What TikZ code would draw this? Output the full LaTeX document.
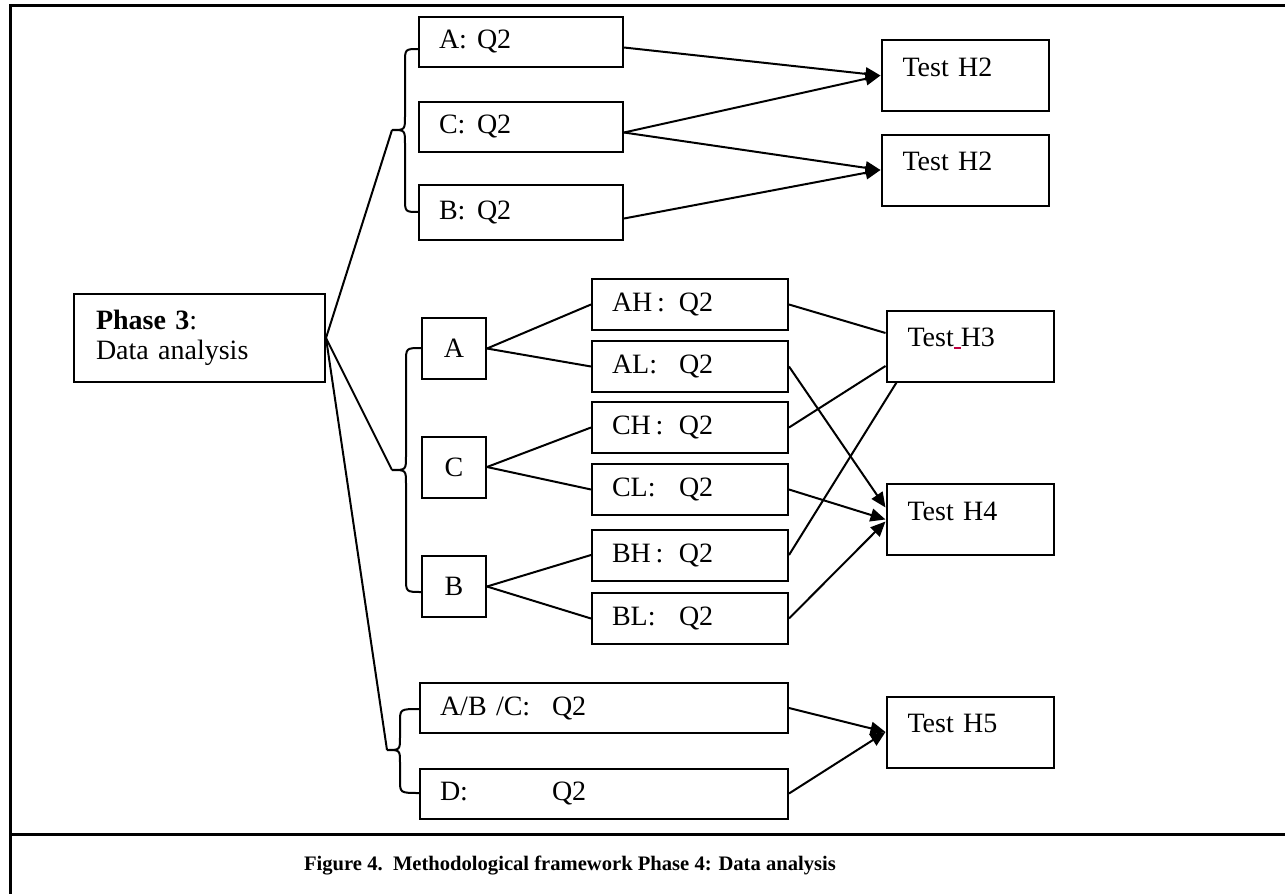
\documentclass[tikz,border=0pt]{standalone}
\usepackage{fontspec}
\setmainfont{Liberation Serif}
\usetikzlibrary{arrows.meta}

\begin{document}
\begin{tikzpicture}[x=0.5pt,y=-0.5pt,
	box/.style={draw,line width=1pt,inner xsep=10pt,inner ysep=0pt,align=left,font=\fontsize{14}{15}\selectfont},
	qbox/.style={box,text width=82pt,minimum height=25pt},
	subbox/.style={box,text width=78pt,minimum height=25.5pt},
	widebox/.style={box,text width=164pt,minimum height=25pt},
	letterbox/.style={box,inner sep=0pt,align=center,minimum width=32pt,minimum height=30.5pt},
	testbox/.style={box,inner xsep=10.5pt,inner ysep=8pt,text width=62.5pt,text height=10pt,text depth=9.5pt},
	phasebox/.style={box,inner xsep=11pt,text width=103.5pt,minimum height=44pt},
	link/.style={line width=1pt},
	arrow/.style={link,-{Triangle[length=7.5pt,width=6.5pt]}},
	frame/.style={line width=1.5pt}]
			\useasboundingbox (0,0) rectangle (1285,894);
			% table frame and caption rule
			\draw[frame] (10,900) -- (10,5) -- (1290,5);
			\draw[frame] (10,834) -- (1290,834);
			% phase box
			\node[phasebox] (phase) at (199.5,338) {\textbf{Phase 3}:\\Data analysis};
			% first group: Q2 by A, C, B
			\node[qbox] (qA) at (521,41.5) {\makebox[19pt][l]{A:}Q2};
			\node[qbox] (qC) at (521,126.5) {\makebox[19pt][l]{C:}Q2};
			\node[qbox,minimum height=27.5pt] (qB) at (521,212.5) {\makebox[19pt][l]{B:}Q2};
			\node[testbox] (h2a) at (965,75.5) {Test H2};
			\node[testbox] (h2b) at (965,170) {Test H2};
			% second group: A, C, B split into H and L
			\node[letterbox] (mA) at (454,348.5) {A};
			\node[letterbox] (mC) at (454,467) {C};
			\node[letterbox] (mB) at (454,586.5) {B};
			\node[subbox] (ah) at (690,304.5) {\makebox[33.5pt][l]{AH\,:}Q2};
			\node[subbox] (al) at (690,366.5) {\makebox[33.5pt][l]{AL:}Q2};
			\node[subbox] (ch) at (690,427.5) {\makebox[33.5pt][l]{CH\,:}Q2};
			\node[subbox] (cl) at (690,489.5) {\makebox[33.5pt][l]{CL:}Q2};
			\node[subbox] (bh) at (690,555) {\makebox[33.5pt][l]{BH\,:}Q2};
			\node[subbox] (bl) at (690,618.5) {\makebox[33.5pt][l]{BL:}Q2};
			\node[testbox] (h3) at (970,346) {Test\textcolor{purple}{\rule[-1pt]{3.5pt}{0.7pt}}H3};
			\node[testbox] (h4) at (970,519.5) {Test H4};
			% third group: A/B/C against D
			\node[widebox] (abc) at (604,708) {\makebox[56pt][l]{A/B /C:}Q2};
			\node[widebox] (dq) at (604,793.5) {\makebox[56pt][l]{D:}Q2};
			\node[testbox] (h5) at (970,732) {Test H5};
			% braces
			\coordinate (tipTop) at (392,130);
			\coordinate (tipMid) at (392,470);
			\coordinate (tipBot) at (387,750);
			\draw[link] (419,49) .. controls (405,49) .. (405,63) -- (405,116) .. controls (405,130) .. (tipTop)
				.. controls (405,130) .. (405,144) -- (405,198) .. controls (405,212) .. (419,212);
			\draw[link] (422,348) .. controls (406,348) .. (406,362) -- (406,456) .. controls (406,470) .. (tipMid)
				.. controls (406,470) .. (406,484) -- (406,578) .. controls (406,592) .. (422,592);
			\draw[link] (420,709) .. controls (400,709) .. (400,722) -- (400,737) .. controls (400,750) .. (tipBot)
				.. controls (400,750) .. (400,763) -- (400,780) .. controls (400,793) .. (420,793);
			% phase to the braces
			\draw[link] (phase.east) -- (tipTop);
			\draw[link] (phase.east) -- (tipMid);
			\draw[link] (phase.east) -- (tipBot);
			% first group connectors
			\draw[arrow] ([yshift=-3pt]qA.east) -- (h2a.west);
			\draw[arrow] ([yshift=-3pt]qC.east) -- (h2a.west);
			\draw[arrow] ([yshift=-3pt]qC.east) -- (h2b.west);
			\draw[arrow] ([yshift=-3pt]qB.east) -- (h2b.west);
			% second group connectors
			\draw[link] (mA.east) -- (ah.west);
			\draw[link] (mA.east) -- (al.west);
			\draw[link] (mC.east) -- (ch.west);
			\draw[link] (mC.east) -- (cl.west);
			\draw[link] (mB.east) -- (bh.west);
			\draw[link] (mB.east) -- (bl.west);
			\draw[link] (ah.east) -- ([yshift=6.5pt]h3.west);
			\draw[link] (ch.east) -- ([yshift=-10pt]h3.west);
			\draw[link] (bh.east) -- ([xshift=5.5pt]h3.south west);
			\draw[arrow] (al.east) -- ([yshift=6pt]h4.west);
			\draw[arrow] (cl.east) -- (h4.west);
			\draw[arrow] (bl.east) -- ([yshift=-1pt]h4.west);
			% third group connectors
			\draw[arrow] (abc.east) -- (h5.west);
			\draw[arrow] (dq.east) -- (h5.west);
			% caption
			\node[font=\bfseries\fontsize{10.3}{12}\selectfont] (caption) at (570,866) {Figure 4.\ \ Methodological framework Phase 4: Data analysis};
		\end{tikzpicture}
\end{document}
